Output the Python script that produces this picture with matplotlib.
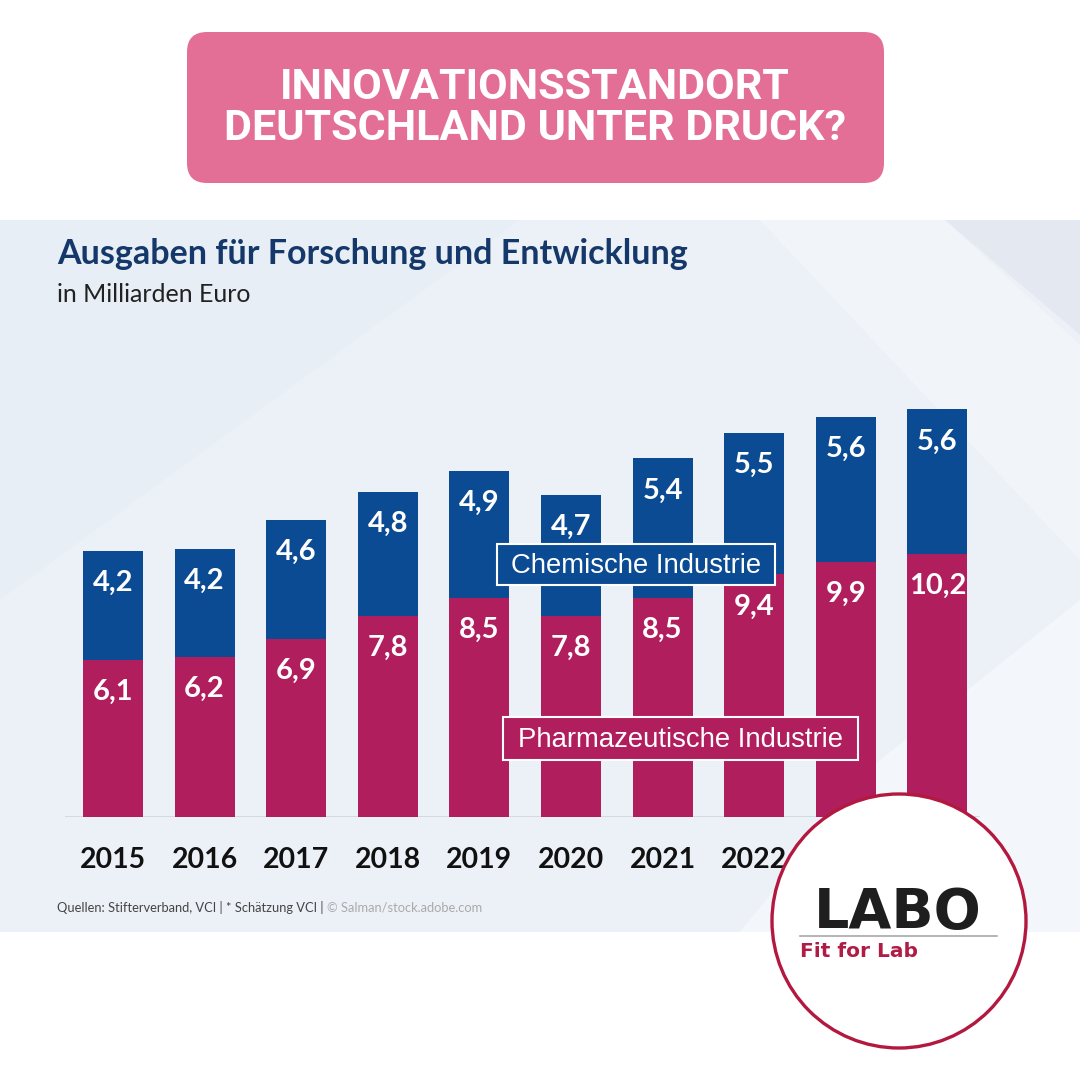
import matplotlib
matplotlib.use("Agg")
import matplotlib.pyplot as plt
from matplotlib.patches import FancyBboxPatch, Rectangle, Circle, Polygon

# ---------------- data ----------------
years = ["2015", "2016", "2017", "2018", "2019", "2020", "2021", "2022", "2023", "2024"]
pharma = [6.1, 6.2, 6.9, 7.8, 8.5, 7.8, 8.5, 9.4, 9.9, 10.2]
chem = [4.2, 4.2, 4.6, 4.8, 4.9, 4.7, 5.4, 5.5, 5.6, 5.6]
series_names = ["Chemische Industrie", "Pharmazeutische Industrie"]
header = "INNOVATIONSSTANDORT\nDEUTSCHLAND UNTER DRUCK?"
title = "Ausgaben für Forschung und Entwicklung"
subtitle = "in Milliarden Euro"
source_dark = "Quellen: Stifterverband, VCI | * Schätzung VCI | "
source_light = "© Salman/stock.adobe.com"

# ---------------- style ----------------
BLUE = "#0b4b93"
CRIMSON = "#b11e5e"
PINK = "#e36f97"
NAVY = "#15386a"
PANEL = "#ecf1f8"
W = H = 1080

fig = plt.figure(figsize=(10.8, 10.8), dpi=100)
fig.patch.set_facecolor("white")

# background / decoration axes in pixel coordinates
bg = fig.add_axes([0, 0, 1, 1], zorder=0)
bg.set_xlim(0, W)
bg.set_ylim(H, 0)
bg.axis("off")

bg.add_patch(Rectangle((0, 220), W, 712, facecolor=PANEL, edgecolor="none"))
bg.add_patch(Polygon([(0, 220), (520, 220), (0, 600)], closed=True,
                     facecolor="#e6ecf6", edgecolor="none", alpha=0.5))
bg.add_patch(Polygon([(760, 220), (945, 220), (1080, 345), (1080, 560)], closed=True,
                     facecolor="white", edgecolor="none", alpha=0.3))
bg.add_patch(Polygon([(945, 220), (1080, 220), (1080, 335)], closed=True,
                     facecolor="#e0e5ed", edgecolor="none", alpha=0.6))
bg.add_patch(Polygon([(880, 760), (1080, 600), (1080, 932), (740, 932)], closed=True,
                     facecolor="white", edgecolor="none", alpha=0.4))

# header pill
r = 20
bg.add_patch(FancyBboxPatch((187 + r, 32 + r), 697 - 2 * r, 151 - 2 * r,
                            boxstyle=f"round,pad={r}", facecolor=PINK, edgecolor="none"))
bg.text(535, 108, header, ha="center", va="center", color="white",
        fontsize=31, fontweight="bold", family="Roboto", linespacing=1.0)

# titles
bg.text(57, 264, title, ha="left", va="baseline", color=NAVY,
        fontsize=24.5, fontweight="bold", family="Lato")
bg.text(57, 302, subtitle, ha="left", va="baseline", color="#222222",
        fontsize=18, family="Lato")
t1 = bg.text(57, 912, source_dark, ha="left", va="baseline", color="#444444",
             fontsize=9.3, family="Lato")
fig.canvas.draw()
bb = t1.get_window_extent()
bg.text(57 + bb.width, 912, source_light, ha="left", va="baseline", color="#aaaaaa",
        fontsize=9.3, family="Lato")

# ---------------- chart axes ----------------
c0, step, base, ppu, top_px = 113, 91.6, 817, 25.8, 400
left_px, right_px = 65, 980
ax = fig.add_axes([left_px / W, (H - base) / H, (right_px - left_px) / W, (base - top_px) / H],
                  zorder=1)
ax.set_xlim((left_px - c0) / step, (right_px - c0) / step)
ax.set_ylim(0, (base - top_px) / ppu)
ax.patch.set_alpha(0)
ax.axis("off")

x = list(range(len(years)))
bw = 60 / step
ax.bar(x, pharma, width=bw, color=CRIMSON, linewidth=0)
ax.bar(x, chem, bottom=pharma, width=bw, color=BLUE, linewidth=0)
ax.axhline(0, color="#d3d8df", lw=1.3, zorder=0)

def fmt(v):
    return f"{v:.1f}".replace(".", ",")

for i in x:
    tot = pharma[i] + chem[i]
    ax.annotate(fmt(chem[i]), (i, tot), xytext=(0, -40), textcoords="offset pixels",
                ha="center", va="baseline", color="white", fontsize=21,
                fontweight="bold", family="Lato")
    ax.annotate(fmt(pharma[i]), (i, pharma[i]), xytext=(0, -40), textcoords="offset pixels",
                ha="center", va="baseline", color="white", fontsize=21,
                fontweight="bold", family="Lato")
    ax.annotate(years[i], (i, 0), xytext=(0, -51), textcoords="offset pixels",
                ha="center", va="baseline", color="#111111", fontsize=20.5,
                fontweight="bold", family="Lato", annotation_clip=False)

# ---------------- overlay: legend boxes and logo ----------------
ov = fig.add_axes([0, 0, 1, 1], zorder=5)
ov.set_xlim(0, W)
ov.set_ylim(H, 0)
ov.axis("off")
ov.patch.set_alpha(0)

ov.add_patch(Rectangle((497, 544), 278, 41, facecolor=BLUE, edgecolor="white", lw=1.5))
ov.text(636, 566, series_names[0], ha="center", va="center", color="white",
        fontsize=19.8, family="Liberation Sans")
ov.add_patch(Rectangle((503, 717), 355, 43, facecolor=CRIMSON, edgecolor="white", lw=1.5))
ov.text(680, 740, series_names[1], ha="center", va="center", color="white",
        fontsize=19.8, family="Liberation Sans")

ov.add_patch(Circle((899, 921), 127, facecolor="white", edgecolor="#b3183f", lw=2.4))
ov.text(898, 928, "LABO", ha="center", va="baseline", color="#1e1e1e",
        fontsize=40, fontweight="bold", family="DejaVu Sans")
ov.plot([800, 997], [936, 936], color="#a8a8a8", lw=1.2)
ov.text(800, 957, "Fit for Lab", ha="left", va="baseline", color="#b01c46",
        fontsize=14.5, fontweight="bold", family="DejaVu Sans")

fig.savefig("out.png", dpi=100, facecolor="white")
